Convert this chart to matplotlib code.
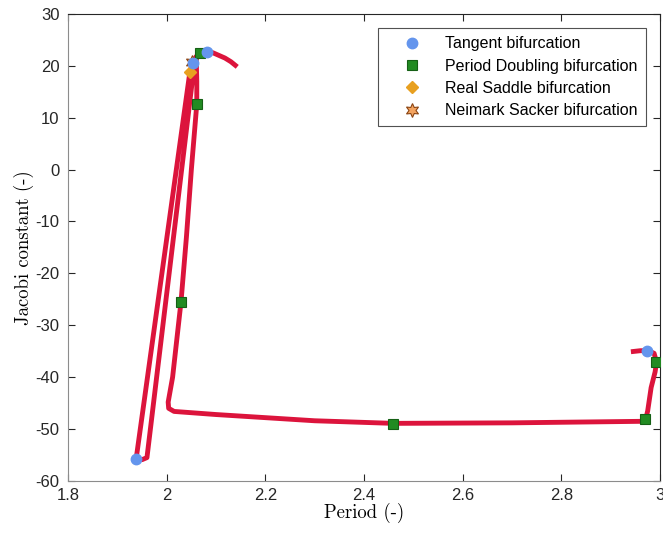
import numpy as np
import matplotlib.pyplot as plt

plt.rcParams['font.family'] = ['Liberation Sans', 'DejaVu Sans']
plt.rcParams['axes.unicode_minus'] = False

# family of periodic orbits (period, Jacobi constant)
period = [2.143, 2.130, 2.118, 2.094, 2.082, 2.068, 2.060, 2.053, 2.047,
          1.938, 1.950, 1.960, 2.055, 2.060, 2.061, 2.061, 2.050, 2.040, 2.029,
          2.012, 2.003, 2.004, 2.015, 2.10, 2.2, 2.3, 2.459, 2.70, 2.97,
          2.975, 2.982, 2.990, 2.993, 2.988, 2.976, 2.96, 2.941]
jacobi = [19.8, 20.8, 21.5, 22.5, 22.7, 22.5, 21.8, 20.7, 18.8,
          -55.8, -55.9, -55.5, 19.5, 21.0, 17.0, 12.6, 0.0, -13.0, -25.5,
          -40.0, -44.8, -46.0, -46.6, -47.2, -47.8, -48.4, -48.9, -48.8, -48.5,
          -46.5, -42.0, -39.0, -37.1, -35.4, -34.9, -34.9, -35.1]

# bifurcation points
tan_T = [2.082, 2.053, 1.938, 2.974]
tan_C = [22.7, 20.6, -55.8, -34.9]
pd_T = [2.068, 2.061, 2.029, 2.459, 2.970, 2.992]
pd_C = [22.5, 12.6, -25.5, -49.1, -48.0, -37.1]
rs_T = [2.047]
rs_C = [18.8]
ns_T = [2.051]
ns_C = [20.8]

fig = plt.figure(figsize=(6.63, 5.35), dpi=100)
ax = fig.add_axes([0.1026, 0.101, 0.8929, 0.873])

ax.plot(period, jacobi, color='#DC143C', lw=3.5, solid_capstyle='butt', zorder=2)
ax.plot(ns_T, ns_C, ls='none', marker=(6, 1, 0), ms=10, mfc='#F4A460',
        mec='#8B4513', mew=0.8, label='Neimark Sacker bifurcation', zorder=3)
ax.plot(tan_T, tan_C, ls='none', marker='o', ms=7.5, mfc='#6495ED',
        mec='#6495ED', label='Tangent bifurcation', zorder=5)
ax.plot(pd_T, pd_C, ls='none', marker='s', ms=6.5, mfc='#228B22',
        mec='#156015', mew=0.8, label='Period Doubling bifurcation', zorder=4)
ax.plot(rs_T, rs_C, ls='none', marker='D', ms=6.5, mfc='#E8A020',
        mec='#E8A020', label='Real Saddle bifurcation', zorder=3)

ax.set_xlim(1.8, 3.0)
ax.set_ylim(-60, 30)
ax.set_xticks(np.arange(1.8, 3.01, 0.2))
ax.set_xticklabels(['1.8', '2', '2.2', '2.4', '2.6', '2.8', '3'])
ax.set_yticks(np.arange(-60, 31, 10))
ax.tick_params(direction='in', top=True, right=True, labelsize=12,
               color='#262626', labelcolor='#262626', length=5)
ax.tick_params(axis='y', pad=6)
ax.tick_params(axis='x', pad=5)
for s in ax.spines.values():
    s.set_color('#262626')
    s.set_linewidth(0.8)
ax.spines['left'].set_color('#8c8c8c')
ax.spines['bottom'].set_color('#8c8c8c')

ax.set_xlabel('Period (-)', fontfamily='cmr10', fontsize=13.5, labelpad=0)
ax.set_ylabel('Jacobi constant (-)', fontfamily='cmr10', fontsize=13.5, labelpad=1)

h, l = ax.get_legend_handles_labels()
order = [1, 2, 3, 0]
leg = ax.legend([h[i] for i in order], [l[i] for i in order], loc='upper right',
                fontsize=11.5, fancybox=False, edgecolor='#262626',
                borderaxespad=0.9, handlelength=3.3, handletextpad=0.4,
                labelspacing=0.46, borderpad=0.5)
leg.get_frame().set_linewidth(0.8)

fig.savefig('out.png', dpi=100)
